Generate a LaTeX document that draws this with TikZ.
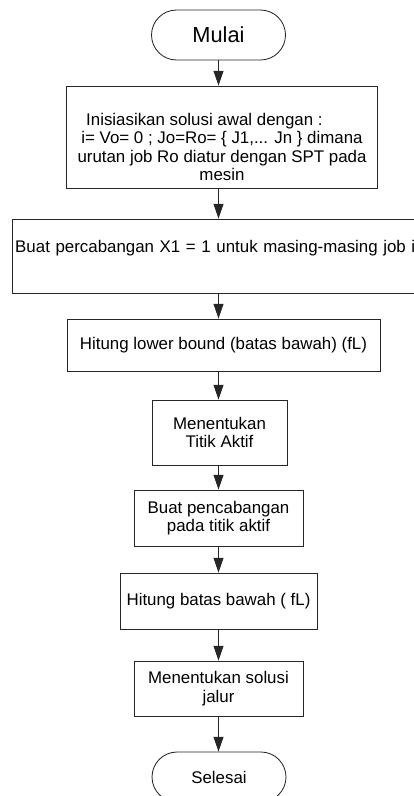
\documentclass[tikz,border=0pt]{standalone}
\usepackage{fontspec}
\setmainfont{Liberation Sans}
\usetikzlibrary{arrows.meta,positioning,calc}

\tikzset{
  proc/.style 2 args={draw=black!85, line width=0.6pt, minimum width=#1*0.025cm,
    minimum height=#2*0.025cm, inner sep=1pt, align=center,
    font=\fontsize{12}{13}\selectfont},
  term/.style={proc={134}{50}, rounded corners=0.625cm},
  arr/.style={draw=black!85, line width=0.6pt, -{Triangle[length=0.37cm,width=0.25cm]}}
}

\begin{document}
\begin{tikzpicture}[x=0.025cm, y=-0.025cm]
  \useasboundingbox (0,0) rectangle (414,796);
  \clip (0,0) rectangle (414,796);

  \node (start) [term, font=\fontsize{15.5}{18}\selectfont] at (218.5,35) {Mulai};
  \node (init) [proc={311}{102}] at (222,137)
    {\mbox{}\\[10pt]Inisiasikan solusi awal dengan :\makebox[25pt]{}\\
     i= Vo= 0 ; Jo=Ro= \{ J1,... Jn \} dimana\\
     urutan job Ro diatur dengan SPT pada\\mesin};
  % wide box, runs off the right edge
  \node (branch) [proc={0}{74}, anchor=west, text width=10.6cm, align=left,
    inner xsep=2pt] at (12,256)
    {Buat percabangan X1 = 1 untuk masing-masing job i\\\mbox{}};
  \node (lower) [proc={313}{52}] at (223.5,345) {Hitung lower bound (batas bawah) (fL)};
  \node (active) [proc={135}{65}] at (219.5,432.5) {Menentukan\\Titik Aktif};
  \node (branchact) [proc={169}{56}] at (218.5,518) {Buat pencabangan\\pada titik aktif};
  \node (bound) [proc={197}{56}] at (218.5,601) {Hitung batas bawah ( fL)};
  \node (path) [proc={169}{55}] at (218.5,688.5) {Menentukan solusi\\jalur};
  \node (finish) [term] at (219,777) {Selesai};

  \draw[arr] (start.south) -- (start.south |- init.north);
  \foreach \a/\b in {init/branch, branch/lower, lower/active, active/branchact,
                     branchact/bound, bound/path, path/finish}
    \draw[arr] (\a.south -| start) -- (\b.north -| start);
\end{tikzpicture}
\end{document}
